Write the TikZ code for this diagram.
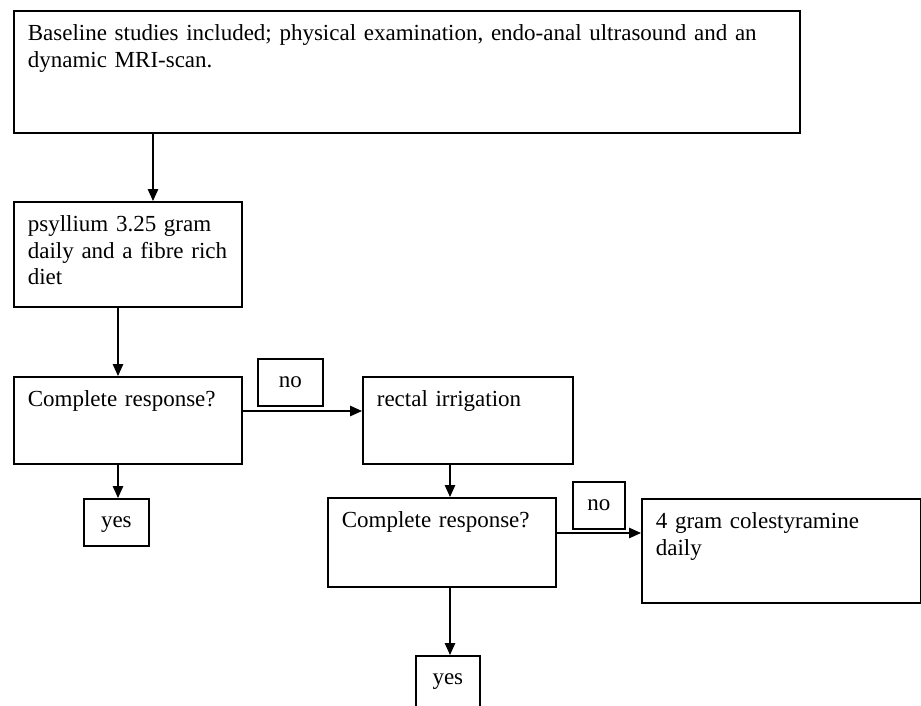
\documentclass[tikz,border=0pt]{standalone}
\usepackage{fontspec}
\setmainfont[WordSpace=0.85]{Liberation Serif}
\usetikzlibrary{arrows.meta}
\begin{document}
\begin{tikzpicture}[
        x=1pt, y=-1pt,
        font=\fontsize{23}{26.5}\selectfont,
        box/.style={
            draw,
            line width=1.7pt,
            anchor=north west,
            inner xsep=14pt,
            inner ysep=0pt,
            align=left,
            text height=30pt
        },
        tag/.style={
            draw,
            line width=1.7pt,
            anchor=north west,
            inner sep=0pt,
            minimum height=47pt,
            text height=10pt,
            text depth=0pt
        },
        link/.style={-{Triangle[length=12pt,width=10.5pt]}, line width=1.2pt}
    ]

    \useasboundingbox (0,0) rectangle (921,705);

    \node[box, text width=758pt, text depth=92pt] (base) at (13,10)
        {Baseline studies included; physical examination, endo-anal ultrasound and an\\dynamic MRI-scan.};

    \node[box, text width=200pt, text depth=75pt] (diet) at (13,201)
        {psyllium 3.25 gram\\daily and a fibre rich\\diet};

    \node[box, text width=200pt, text depth=57pt] (resp1) at (13,376)
        {Complete response?};
    \node[tag, minimum width=65pt] (no1) at (257,358) {no};
    \node[box, text width=182pt, text depth=57pt] (irrig) at (362,376)
        {rectal irrigation};
    \node[tag, minimum width=65pt] (yes1) at (83,498) {yes};

    \node[box, text width=200pt, text depth=59pt] (resp2) at (327,497)
        {Complete response?};
    \node[tag, minimum width=52pt] (no2) at (572,481) {no};
    \node[box, text width=251pt, text depth=74pt] (chol) at (641,498)
        {4 gram colestyramine\\daily};
    \node[tag, minimum width=64pt, minimum height=52pt, text depth=4pt] (yes2) at (415,655) {yes};

    \draw[link] ([xshift=140pt]base.south west) coordinate (a1) -- (a1 |- diet.north);
    \draw[link] ([xshift=105pt]diet.south west) coordinate (a2) -- (a2 |- resp1.north);
    \draw[link] ([yshift=-35pt]resp1.north east) coordinate (a3) -- (a3 -| irrig.west);
    \draw[link] ([xshift=105pt]resp1.south west) coordinate (a4) -- (a4 |- yes1.north);
    \draw[link] ([xshift=88pt]irrig.south west) coordinate (a5) -- (a5 |- resp2.north);
    \draw[link] ([yshift=-36pt]resp2.north east) coordinate (a6) -- (a6 -| chol.west);
    \draw[link] ([xshift=123pt]resp2.south west) coordinate (a7) -- (a7 |- yes2.north);

\end{tikzpicture}
\end{document}
